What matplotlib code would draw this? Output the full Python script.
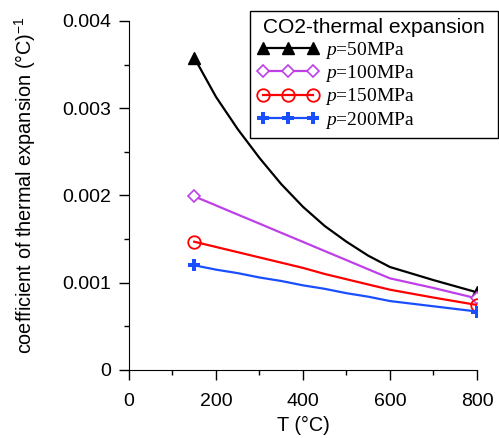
import matplotlib
matplotlib.use("Agg")
import matplotlib.pyplot as plt
from matplotlib.ticker import MultipleLocator, FuncFormatter

plt.rcParams['font.family'] = ['Liberation Sans', 'DejaVu Sans']
plt.rcParams['mathtext.fontset'] = 'custom'
plt.rcParams['mathtext.rm'] = 'Liberation Sans'
plt.rcParams['mathtext.it'] = 'Liberation Serif:italic'

# temperature (°C) and thermal expansion coefficient (1/°C)
T = [150, 200, 250, 300, 350, 400, 450, 500, 550, 600, 700, 800]
alpha_50 = [0.00358, 0.00313, 0.00276, 0.00243, 0.00213, 0.00187, 0.00165,
            0.00147, 0.00131, 0.00118, 0.00103, 0.00089]
alpha_100 = [0.001990, 0.001886, 0.001781, 0.001677, 0.001572, 0.001468, 0.001363,
             0.001259, 0.001154, 0.00105, 0.00094, 0.00082]
alpha_150 = [0.00147, 0.00141, 0.00135, 0.00129, 0.00123, 0.00117, 0.00110,
             0.00104, 0.00098, 0.00092, 0.00083, 0.000745]
alpha_200 = [0.00120, 0.00115, 0.00111, 0.00106, 0.00102, 0.00097, 0.00093,
             0.00088, 0.00084, 0.00079, 0.00073, 0.00067]
labels = ["$p$=50MPa", "$p$=100MPa", "$p$=150MPa", "$p$=200MPa"]

fig = plt.figure(figsize=(4.99, 4.38), dpi=100)
ax = fig.add_axes([0.2585, 0.1553, 0.6974, 0.7968])

styles = [
    dict(color="black", marker="^", ms=8.5, mfc="black"),
    dict(color="#BF40E8", marker="D", ms=6.5, mfc="white", mew=1.2),
    dict(color="#FF0000", marker="o", ms=9, mfc="none", mew=1.3),
    dict(color="#1A4FFF", marker="P", ms=9, mfc="#1A4FFF", mew=0),
]
for vals, lab, st in zip([alpha_50, alpha_100, alpha_150, alpha_200], labels, styles):
    ax.plot(T, vals, lw=1.6, markevery=[0, len(T) - 1], label=lab,
            solid_joinstyle="round", **st)

ax.set_xlim(0, 800)
ax.set_ylim(0, 0.004)
ax.xaxis.set_major_locator(MultipleLocator(200))
ax.xaxis.set_minor_locator(MultipleLocator(100))
ax.yaxis.set_major_locator(MultipleLocator(0.001))
ax.yaxis.set_minor_locator(MultipleLocator(0.0005))
ax.yaxis.set_major_formatter(FuncFormatter(lambda v, p: "0" if v == 0 else f"{v:.3f}"))
ax.tick_params(which="major", direction="out", length=7.2, width=1, labelsize=14)
ax.tick_params(which="minor", direction="out", length=3.6, width=1)
ax.tick_params(axis="x", pad=9.5)
ax.tick_params(axis="y", pad=5.5)
ax.spines["top"].set_visible(False)
ax.spines["right"].set_visible(False)

ax.set_xlabel("T (°C)", fontsize=14.3, labelpad=4.5)
ax.set_ylabel("coefficient of thermal expansion (°C)$^{-1}$", fontsize=14.3)
ax.yaxis.set_label_coords(-0.262, 0.53)

leg = ax.legend(loc="upper right", bbox_to_anchor=(0.998, 0.975), bbox_transform=fig.transFigure,
                title=" CO2-thermal expansion ", title_fontsize=15.1, numpoints=3,
                prop={"family": "Liberation Serif", "size": 14}, fancybox=False,
                edgecolor="black", framealpha=1, handlelength=3.2, handletextpad=0.3,
                labelspacing=0.12, borderpad=0.38, borderaxespad=0, alignment="left")
leg.get_frame().set_linewidth(1)

plt.savefig("out.png", dpi=100)
